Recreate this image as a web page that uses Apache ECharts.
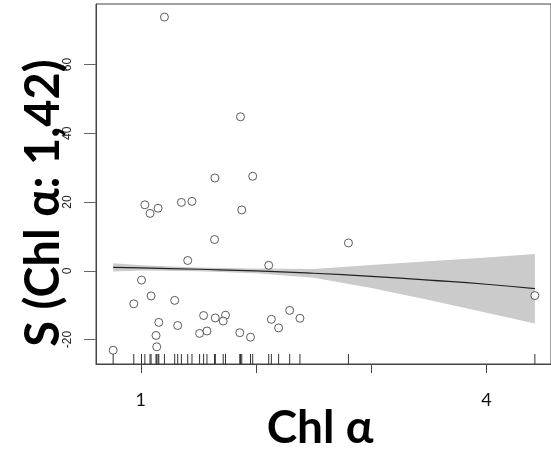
<!DOCTYPE html>
<html>
<head>
   <meta charset="utf-8">
   <title>Chl a smooth</title>
   <script src="https://cdn.jsdelivr.net/npm/echarts@6/dist/echarts.min.js"></script>
   <style>
      html, body { margin: 0; padding: 0; background: #fff; }
      #chart { width: 551px; height: 449px; }
   </style>
</head>
<body>
<div id="chart"></div>
<script>
    // partial residuals (points)
    var xVals = [1.205, 1.865, 1.643, 1.971, 1.035, 1.080, 1.150, 1.352, 1.444, 1.876, 1.640, 2.802,
                 1.407, 2.110, 1.006, 0.939, 1.089, 1.294, 1.156, 1.320, 1.132, 1.138, 0.760, 1.545,
                 1.646, 1.735, 1.715, 1.510, 1.574, 1.859, 1.952, 2.133, 2.196, 2.292, 2.381, 4.420];
    var yVals = [73.8, 44.8, 27.0, 27.5, 19.2, 16.7, 18.2, 19.9, 20.2, 17.7, 9.1, 8.1,
                 3.0, 1.6, -2.7, -9.6, -7.3, -8.6, -15.0, -15.9, -18.8, -22.1, -23.1, -13.0,
                 -13.7, -12.9, -14.6, -18.2, -17.5, -18.0, -19.3, -14.1, -16.6, -11.5, -13.8, -7.2];

    // smooth term and its band
    var smoothX = [0.76, 1.0, 1.5, 2.0, 2.5, 3.0, 3.5, 4.0, 4.42];
    var smoothY = [1.0, 0.85, 0.45, 0.0, -0.7, -1.6, -2.7, -3.9, -5.2];
    var upperY  = [2.2, 1.6, 1.0, 0.7, 0.5, 1.7, 2.8, 3.9, 4.9];
    var lowerY  = [-0.2, 0.1, -0.1, -0.7, -2.0, -5.0, -8.5, -12.2, -15.3];

    var xTicks = [1, 2, 3, 4];
    var xTickLabels = [1, 4];
    var yTicks = [-20, 0, 20, 40, 60];

    var xMin = 0.611, xMax = 4.56, yMin = -27.1, yMax = 77.6;

    var chart = echarts.init(document.getElementById('chart'));

    var option = {
        animation: false,
        grid: {left: 96, top: 4, right: -2, bottom: 85, show: true, borderColor: '#444', borderWidth: 1},
        xAxis: {
            type: 'value', min: xMin, max: xMax,
            splitLine: {show: false},
            axisLine: {show: true, onZero: false, lineStyle: {color: '#444'}},
            axisTick: {show: true, length: 9, customValues: xTicks, lineStyle: {color: '#444'}},
            axisLabel: {customValues: xTickLabels, margin: 27, fontSize: 18, color: '#111', fontFamily: 'Lato'}
        },
        yAxis: {
            type: 'value', min: yMin, max: yMax,
            splitLine: {show: false},
            axisLine: {show: true, onZero: false, lineStyle: {color: '#444'}},
            axisTick: {show: true, length: 12, customValues: yTicks, lineStyle: {color: '#666'}},
            axisLabel: {customValues: yTicks, rotate: 90, margin: 22, fontSize: 12, color: '#222', fontFamily: 'Liberation Sans'}
        },
        graphic: [
            {type: 'text', x: 320, y: 428, z: 10,
             style: {text: 'Chl α', font: 'bold 46px Lato', fill: '#000', align: 'center', verticalAlign: 'middle'}},
            {type: 'text', x: 44, y: 203, rotation: Math.PI / 2, z: 10,
             style: {text: 'S (Chl α: 1,42)', font: 'bold 47px Lato', fill: '#000', align: 'center', verticalAlign: 'middle'}}
        ],
        series: [
            {
                type: 'custom', clip: true, silent: true, z: 1,
                data: [[1, 0]],
                renderItem: function (params, api) {
                    var pts = [];
                    for (var i = 0; i < smoothX.length; i++) pts.push(api.coord([smoothX[i], upperY[i]]));
                    for (var j = smoothX.length - 1; j >= 0; j--) pts.push(api.coord([smoothX[j], lowerY[j]]));
                    return {type: 'polygon', shape: {points: pts}, style: {fill: '#cbcbcb', stroke: null}};
                }
            },
            {
                type: 'line', z: 2, symbol: 'none', smooth: true,
                data: smoothX.map(function (x, i) { return [x, smoothY[i]]; }),
                lineStyle: {color: '#222', width: 1.2}
            },
            {
                type: 'custom', z: 3, silent: true,
                data: xVals.map(function (x) { return [x, yMin]; }),
                renderItem: function (params, api) {
                    var p = api.coord([api.value(0), yMin]);
                    return {type: 'line', shape: {x1: p[0], y1: p[1], x2: p[0], y2: p[1] - 10},
                            style: {stroke: '#333', lineWidth: 1}};
                }
            },
            {
                type: 'scatter', z: 4, symbol: 'circle', symbolSize: 8,
                data: xVals.map(function (x, i) { return [x, yVals[i]]; }),
                itemStyle: {color: '#fff', borderColor: '#333', borderWidth: 1}
            }
        ]
    };
    chart.setOption(option);
</script>
</body>
</html>
